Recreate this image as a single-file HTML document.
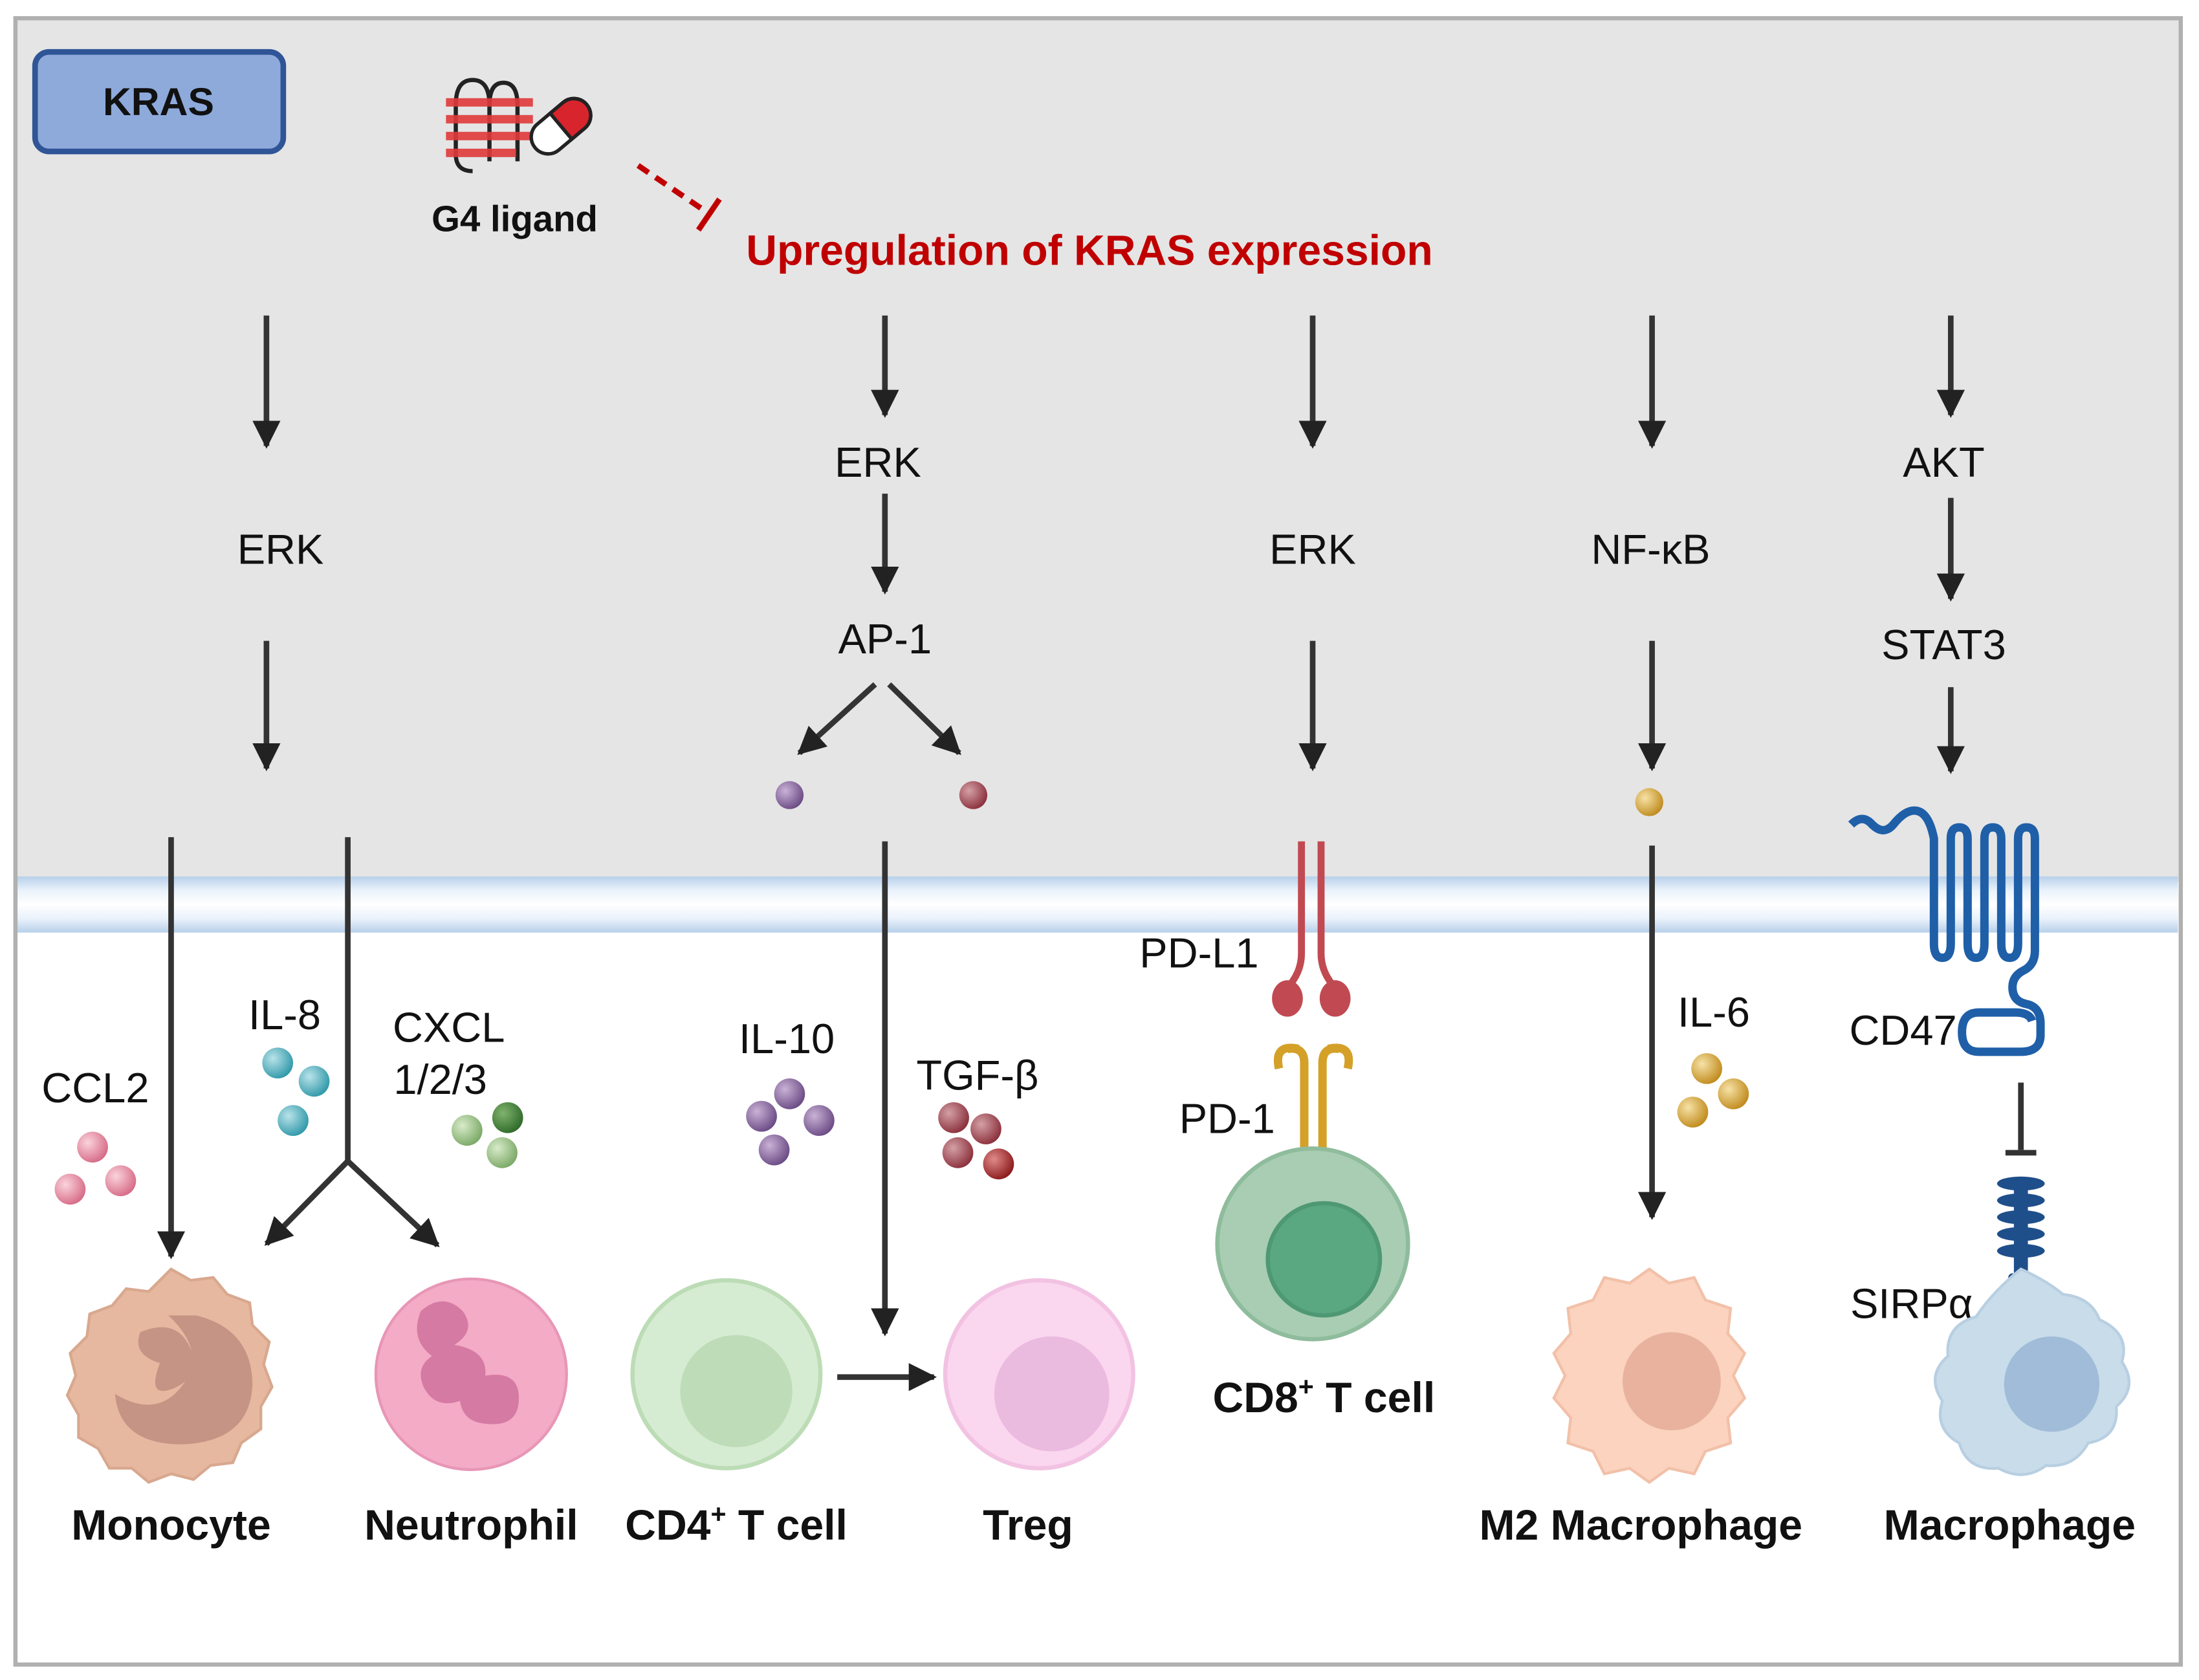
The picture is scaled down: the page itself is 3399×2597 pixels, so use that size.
<!DOCTYPE html>
<html><head><meta charset="utf-8"><style>
html,body{margin:0;padding:0;background:#fff}
svg{display:block}
text{font-family:"Liberation Sans",Arial,sans-serif}
</style></head><body>
<svg width="3399" height="2597" viewBox="0 0 1568 1198" xmlns="http://www.w3.org/2000/svg">
<defs>
<marker id="ah" viewBox="0 0 20 22" refX="18" refY="11" markerWidth="20" markerHeight="22" markerUnits="userSpaceOnUse" orient="auto">
<path d="M0,1 L20,11 L0,21 Z" fill="#222"/></marker>
<linearGradient id="mem" x1="0" y1="0" x2="0" y2="1">
<stop offset="0" stop-color="#b7d0ea"/><stop offset="0.25" stop-color="#eaf2fb"/><stop offset="0.5" stop-color="#ffffff"/><stop offset="0.75" stop-color="#eaf2fb"/><stop offset="1" stop-color="#b7d0ea"/></linearGradient>
<radialGradient id="gpk" cx="0.35" cy="0.35" r="0.7"><stop offset="0" stop-color="#fbd3dc"/><stop offset="1" stop-color="#d66a86"/></radialGradient>
<radialGradient id="gtl" cx="0.35" cy="0.35" r="0.7"><stop offset="0" stop-color="#b9e3ea"/><stop offset="1" stop-color="#2f98a8"/></radialGradient>
<radialGradient id="ggr" cx="0.35" cy="0.35" r="0.7"><stop offset="0" stop-color="#d8ebc9"/><stop offset="1" stop-color="#7aa866"/></radialGradient>
<radialGradient id="gdg" cx="0.35" cy="0.35" r="0.7"><stop offset="0" stop-color="#7fb36d"/><stop offset="1" stop-color="#2f6a2a"/></radialGradient>
<radialGradient id="gpu" cx="0.35" cy="0.35" r="0.7"><stop offset="0" stop-color="#c9b2d6"/><stop offset="1" stop-color="#6a4a84"/></radialGradient>
<radialGradient id="gmr" cx="0.35" cy="0.35" r="0.7"><stop offset="0" stop-color="#d4a0a6"/><stop offset="1" stop-color="#8a2f3a"/></radialGradient>
<radialGradient id="grd" cx="0.35" cy="0.35" r="0.7"><stop offset="0" stop-color="#e08a8a"/><stop offset="1" stop-color="#8a1a1a"/></radialGradient>
<radialGradient id="ggd" cx="0.35" cy="0.35" r="0.7"><stop offset="0" stop-color="#f6e2a6"/><stop offset="1" stop-color="#c08a1c"/></radialGradient>
</defs>
<rect x="0" y="0" width="1568" height="1198" fill="#fff"/>
<rect x="11" y="13" width="1544" height="616" fill="#e5e5e5"/>
<rect x="11" y="625" width="1542" height="40" fill="url(#mem)"/>
<rect x="11" y="13" width="1544" height="1174" fill="none" stroke="#b0b0b0" stroke-width="3"/>

<rect x="25" y="37" width="177" height="71" rx="10" fill="#8eaadb" stroke="#2f5597" stroke-width="4"/>
<text x="113" y="82" font-size="28" font-weight="bold" text-anchor="middle" fill="#111">KRAS</text>

<!-- G4 icon -->
<g stroke="#222" stroke-width="3" fill="none">
<path d="M325,75 q0,-18 12,-18 q12,0 12,18 v40 M349,75 q0,-16 10,-16 q10,0 10,16 v40 M325,75 v35 q0,12 12,12"/>
</g>
<g fill="#e03a3a" opacity="0.9">
<rect x="318" y="70" width="62" height="6"/><rect x="318" y="82" width="62" height="6"/><rect x="318" y="94" width="62" height="6"/><rect x="318" y="106" width="50" height="6"/>
</g>
<g transform="rotate(-40 400 90)">
<rect x="376" y="78" width="48" height="24" rx="12" fill="#fff" stroke="#222" stroke-width="2.5"/>
<path d="M400,78 h12 a12,12 0 0 1 0,24 h-12 z" fill="#d8242c" stroke="#222" stroke-width="2.5"/>
</g>
<text x="367" y="165" font-size="26" font-weight="bold" text-anchor="middle" fill="#111">G4 ligand</text>

<line x1="455" y1="118" x2="505" y2="152" stroke="#c00000" stroke-width="4" stroke-dasharray="9,6"/>
<line x1="498" y1="164" x2="513" y2="142" stroke="#c00000" stroke-width="4"/>
<text x="532" y="189" font-size="30.5" font-weight="bold" fill="#c00000">Upregulation of KRAS expression</text>

<g stroke="#333" stroke-width="4" marker-end="url(#ah)">
<line x1="190" y1="225" x2="190" y2="318"/>
<line x1="190" y1="457" x2="190" y2="548"/>
<line x1="631" y1="225" x2="631" y2="296"/>
<line x1="631" y1="352" x2="631" y2="422"/>
<line x1="624" y1="488" x2="570" y2="537"/>
<line x1="634" y1="488" x2="684" y2="537"/>
<line x1="936" y1="225" x2="936" y2="318"/>
<line x1="936" y1="457" x2="936" y2="548"/>
<line x1="1178" y1="225" x2="1178" y2="318"/>
<line x1="1178" y1="457" x2="1178" y2="548"/>
<line x1="1391" y1="225" x2="1391" y2="296"/>
<line x1="1391" y1="355" x2="1391" y2="427"/>
<line x1="1391" y1="490" x2="1391" y2="550"/>
<line x1="122" y1="597" x2="122" y2="896"/>
<line x1="248" y1="828" x2="190" y2="887"/>
<line x1="248" y1="828" x2="312" y2="888"/>
<line x1="631" y1="600" x2="631" y2="951"/>
<line x1="597" y1="982" x2="666" y2="982"/>
<line x1="1178" y1="603" x2="1178" y2="868"/>
</g>
<line x1="248" y1="597" x2="248" y2="830" stroke="#333" stroke-width="4"/>

<g font-size="30" fill="#111" text-anchor="middle">
<text x="200" y="402">ERK</text>
<text x="626" y="340">ERK</text>
<text x="631" y="466">AP-1</text>
<text x="936" y="402">ERK</text>
<text x="1177" y="402">NF-κB</text>
<text x="1386" y="340">AKT</text>
<text x="1386" y="470">STAT3</text>
<text x="68" y="786">CCL2</text>
<text x="203" y="734">IL-8</text>
<text x="320" y="743">CXCL</text>
<text x="314" y="780">1/2/3</text>
<text x="561" y="751">IL-10</text>
<text x="697" y="777">TGF-β</text>
<text x="855" y="690">PD-L1</text>
<text x="875" y="808">PD-1</text>
<text x="1222" y="732">IL-6</text>
<text x="1357" y="745">CD47</text>
<text x="1363" y="940">SIRPα</text>
</g>

<!-- dots -->
<circle cx="563" cy="567" r="10" fill="url(#gpu)"/>
<circle cx="694" cy="567" r="10" fill="url(#gmr)"/>
<circle cx="1176" cy="572" r="10" fill="url(#ggd)"/>
<circle cx="66" cy="818" r="11" fill="url(#gpk)"/><circle cx="50" cy="848" r="11" fill="url(#gpk)"/><circle cx="86" cy="842" r="11" fill="url(#gpk)"/>
<circle cx="198" cy="758" r="11" fill="url(#gtl)"/><circle cx="224" cy="771" r="11" fill="url(#gtl)"/><circle cx="209" cy="799" r="11" fill="url(#gtl)"/>
<circle cx="362" cy="797" r="11" fill="url(#gdg)"/><circle cx="333" cy="806" r="11" fill="url(#ggr)"/><circle cx="358" cy="822" r="11" fill="url(#ggr)"/>
<circle cx="563" cy="780" r="11" fill="url(#gpu)"/><circle cx="543" cy="796" r="11" fill="url(#gpu)"/><circle cx="584" cy="799" r="11" fill="url(#gpu)"/><circle cx="552" cy="820" r="11" fill="url(#gpu)"/>
<circle cx="680" cy="797" r="11" fill="url(#gmr)"/><circle cx="703" cy="805" r="11" fill="url(#gmr)"/><circle cx="683" cy="822" r="11" fill="url(#gmr)"/><circle cx="712" cy="830" r="11" fill="url(#grd)"/>
<circle cx="1217" cy="762" r="11" fill="url(#ggd)"/><circle cx="1236" cy="780" r="11" fill="url(#ggd)"/><circle cx="1207" cy="793" r="11" fill="url(#ggd)"/>

<!-- PD-L1 -->
<g stroke="#c14a52" stroke-width="5" fill="none">
<path d="M928,600 v80 q0,12 -8,22"/><path d="M942,600 v80 q0,12 8,22"/>
</g>
<ellipse cx="918" cy="712" rx="11" ry="13" fill="#c14a52"/><ellipse cx="952" cy="712" rx="11" ry="13" fill="#c14a52"/>
<!-- PD-1 -->
<g stroke="#d4a028" stroke-width="6" fill="none">
<path d="M930,828 v-70 q0,-12 -12,-10"/><path d="M943,828 v-70 q0,-12 12,-10"/>
<path d="M912,762 q-4,-18 14,-14"/><path d="M961,762 q4,-18 -14,-14"/>
</g>
<!-- CD8 -->
<circle cx="936" cy="887" r="68" fill="#a8cdb2" stroke="#8fbc9c" stroke-width="3"/>
<circle cx="944" cy="898" r="40" fill="#5aa882" stroke="#4e9874" stroke-width="3"/>

<!-- CD47 -->
<g stroke="#1f5fa8" stroke-width="6" fill="none" stroke-linejoin="round">
<path d="M1320,588 q8,-8 15,0 q8,8 15,0 q8,-10 15,-10 q10,0 14,20 v75 q0,10 6,10 q6,0 6,-10 v-75 q0,-8 6,-8 q6,0 6,8 v75 q0,10 6,10 q6,0 6,-10 v-75 q0,-8 6,-8 q6,0 6,8 v75 q0,10 6,10 q6,0 6,-10 v-75 q0,-8 6,-8 q6,0 6,8 v80 q0,10 -8,14 q-8,4 -8,12 q0,10 10,12 q10,2 10,14 v8 q0,12 -14,12 h-30 q-12,0 -12,-14 q0,-14 12,-14 h26 q10,0 12,6"/>
</g>
<!-- SIRPa -->
<line x1="1441" y1="772" x2="1441" y2="820" stroke="#333" stroke-width="4"/>
<line x1="1430" y1="822" x2="1452" y2="822" stroke="#333" stroke-width="4"/>
<g fill="#1f4f8a">
<rect x="1436" y="840" width="10" height="80"/>
<ellipse cx="1441" cy="844" rx="17" ry="5"/><ellipse cx="1441" cy="856" rx="17" ry="5"/><ellipse cx="1441" cy="868" rx="17" ry="5"/><ellipse cx="1441" cy="880" rx="17" ry="5"/><ellipse cx="1441" cy="892" rx="17" ry="5"/>
<rect x="1432" y="908" width="18" height="16" rx="3"/>
</g>

<!-- Monocyte -->
<path d="M122,905 l14,8 l16,-2 l10,12 l16,6 l2,16 l12,12 l-4,16 l6,16 l-8,14 l0,16 l-14,10 l-6,14 l-16,2 l-12,10 l-16,-4 l-16,6 l-12,-10 l-16,0 l-8,-14 l-14,-8 l0,-16 l-8,-14 l6,-14 l-4,-16 l12,-12 l2,-16 l16,-6 l10,-12 l16,2 z" fill="#e7b8a0" stroke="#d8a88e" stroke-width="2"/>
<path d="M100,950 q24,-10 34,8 q12,22 -10,32 q-20,8 -10,-18 q-20,-6 -14,-22 z M140,938 q40,10 40,50 q-2,40 -50,42 q-45,0 -48,-36 q30,18 48,-6 q18,-24 -10,-50 z" fill="#c69484"/>
<!-- Neutrophil -->
<circle cx="336" cy="980" r="68" fill="#f3abc6" stroke="#e896b6" stroke-width="2"/>
<path d="M300,935 q16,-14 30,0 q10,14 -6,24 q24,4 22,22 q24,-4 24,16 q0,22 -26,18 q-14,-2 -16,-16 q-18,6 -26,-10 q-6,-14 6,-22 q-16,-12 -8,-32 z" fill="#d57ba3"/>
<!-- CD4 -->
<circle cx="518" cy="980" r="67" fill="#d6ecd2" stroke="#bcdcb5" stroke-width="3"/>
<circle cx="525" cy="992" r="40" fill="#bedcb8"/>
<!-- Treg -->
<circle cx="741" cy="980" r="67" fill="#fbd6ef" stroke="#f2c2e2" stroke-width="3"/>
<circle cx="750" cy="994" r="41" fill="#ebbadf"/>
<!-- M2 -->
<path d="M1176,905 l14,10 l18,-4 l8,16 l18,6 l-2,18 l12,14 l-8,16 l8,16 l-12,14 l2,18 l-18,6 l-8,16 l-18,-4 l-14,10 l-14,-10 l-18,4 l-8,-16 l-18,-6 l2,-18 l-12,-14 l8,-16 l-8,-16 l12,-14 l-2,-18 l18,-6 l8,-16 l18,4 z" fill="#fbd3bf" stroke="#f2c0a8" stroke-width="2"/>
<circle cx="1192" cy="985" r="35" fill="#e8b29e"/>
<!-- Macrophage -->
<path d="M1441,905 q18,8 30,18 q20,2 26,18 q22,10 16,30 q12,18 -4,32 q2,22 -20,26 q-10,18 -30,16 q-16,12 -34,2 q-22,2 -28,-18 q-18,-10 -12,-30 q-12,-18 4,-32 q-2,-22 20,-28 q12,-18 32,-34 z" fill="#c9dcea" stroke="#b8cfe2" stroke-width="2"/>
<circle cx="1463" cy="987" r="34" fill="#a1bcd8"/>

<g font-size="30.5" font-weight="bold" fill="#111" text-anchor="middle">
<text x="122" y="1098">Monocyte</text>
<text x="336" y="1098">Neutrophil</text>
<text x="525" y="1098">CD4<tspan font-size="19" dy="-12">+</tspan><tspan dy="12"> T cell</tspan></text>
<text x="733" y="1098">Treg</text>
<text x="944" y="1007">CD8<tspan font-size="19" dy="-12">+</tspan><tspan dy="12"> T cell</tspan></text>
<text x="1170" y="1098">M2 Macrophage</text>
<text x="1433" y="1098">Macrophage</text>
</g>
</svg>
</body></html>
